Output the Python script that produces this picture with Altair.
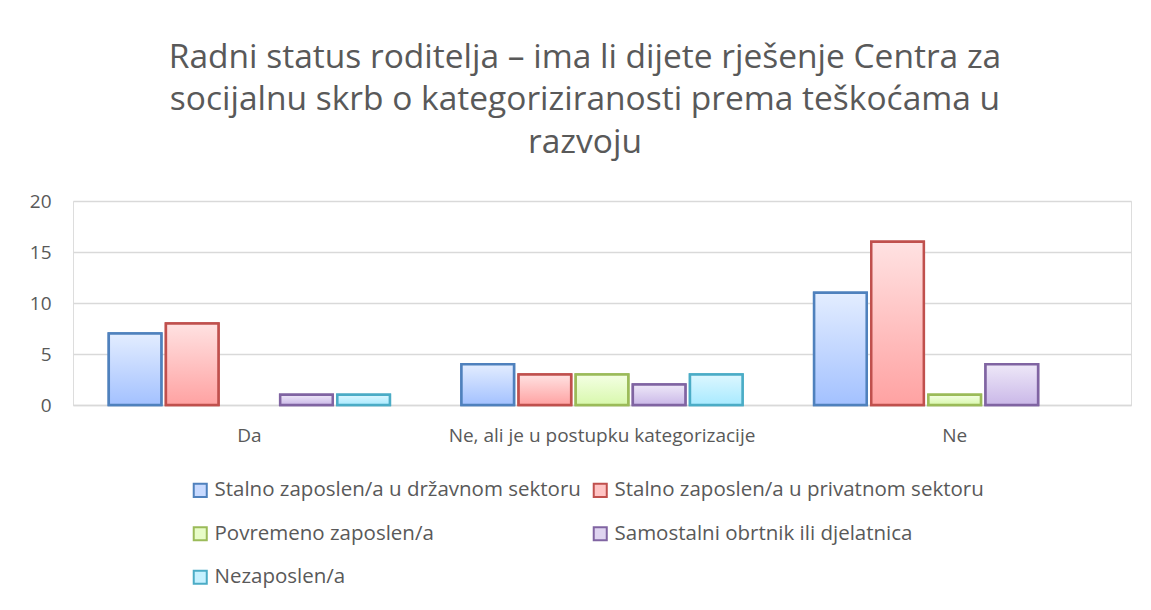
import altair as alt
import pandas as pd

categories = ["Da", "Ne, ali je u postupku kategorizacije", "Ne"]
series = [
    "Stalno zaposlen/a u državnom sektoru",
    "Stalno zaposlen/a u privatnom sektoru",
    "Povremeno zaposlen/a",
    "Samostalni obrtnik ili djelatnica",
    "Nezaposlen/a",
]
drzavni = [7, 4, 11]
privatni = [8, 3, 16]
povremeno = [0, 3, 1]
obrtnik = [1, 2, 4]
nezaposlen = [1, 3, 0]

stroke_colors = ["#4F81BD", "#C0504D", "#9BBB59", "#8064A2", "#4BACC6"]
legend_fill = ["#C8DAFF", "#FFC4C4", "#E8FCC8", "#DFD4F0", "#C6F1FF"]
grad_top = ["#E3EDFF", "#FFE2E2", "#F4FFE4", "#EEE8F8", "#DDF7FF"]
grad_bottom = ["#A3C1FF", "#FFA2A2", "#D8F8AC", "#CAB8E8", "#A8EAFF"]

rows = []
for s, vals in zip(series, [drzavni, privatni, povremeno, obrtnik, nezaposlen]):
    for c, v in zip(categories, vals):
        rows.append({"kategorija": c, "status": s, "broj": v})
df = pd.DataFrame(rows)


def grad(top, bottom):
    return {
        "gradient": "linear",
        "x1": 0, "y1": 0, "x2": 0, "y2": 1,
        "stops": [{"offset": 0, "color": top}, {"offset": 1, "color": bottom}],
    }


font = "Open Sans"
gray = "#595959"

x_enc = alt.X(
    "kategorija:N",
    sort=categories,
    scale=alt.Scale(paddingInner=0.19, paddingOuter=0.095),
    axis=alt.Axis(
        title=None, labelAngle=0, ticks=False, domain=True, domainColor="#D9D9D9",
        domainWidth=1.5, labelPadding=21, labelFontSize=19, labelColor=gray, labelFont=font,
        labelLimit=0,
    ),
)
xo_enc = alt.XOffset(
    "status:N", sort=series,
    scale=alt.Scale(domain=series, paddingInner=0.08, paddingOuter=0.04),
)
y_enc = alt.Y(
    "broj:Q",
    scale=alt.Scale(domain=[0, 20]),
    axis=alt.Axis(
        title=None, values=[0, 5, 10, 15, 20], ticks=False, domain=False,
        gridColor="#D9D9D9", gridWidth=1.5, labelPadding=22, labelFontSize=19,
        labelColor=gray, labelFont=font,
    ),
)

base = alt.Chart(df).transform_filter("datum.broj > 0")

legend_layer = base.mark_bar(strokeWidth=2.5).encode(
    x=x_enc,
    xOffset=xo_enc,
    y=y_enc,
    fill=alt.Fill(
        "status:N", sort=series,
        scale=alt.Scale(domain=series, range=legend_fill),
        legend=alt.Legend(
            title=None, orient="none", legendX=117, legendY=279, columns=2,
            direction="horizontal", symbolType="square", symbolSize=170,
            symbolStrokeWidth=2, labelFontSize=20.5, labelColor=gray, labelFont=font,
            rowPadding=21.5, columnPadding=8, labelOffset=4, labelLimit=600,
        ),
    ),
    stroke=alt.Stroke(
        "status:N", sort=series,
        scale=alt.Scale(domain=series, range=stroke_colors),
    ),
)

grad_fill = alt.value(
    grad(grad_top[-1], grad_bottom[-1]),
    condition=[
        {"test": f"datum.status === '{s}'", "value": grad(t, b)}
        for s, t, b in zip(series[:-1], grad_top[:-1], grad_bottom[:-1])
    ],
)

grad_layer = base.mark_bar(strokeWidth=2.5).encode(
    x=x_enc,
    xOffset=xo_enc,
    y=y_enc,
    fill=grad_fill,
    stroke=alt.Stroke("status:N", sort=series, legend=None),
)

chart = (
    alt.layer(legend_layer, grad_layer)
    .properties(
        width=1058,
        height=204,
        autosize=alt.AutoSizeParams(type="none"),
        padding={"left": 65, "top": 193, "right": 12, "bottom": 190},
        title=alt.TitleParams(
            text=[
                "Radni status roditelja – ima li dijete rješenje Centra za",
                "socijalnu skrb o kategoriziranosti prema teškoćama u",
                "razvoju",
            ],
            fontSize=33.5, font=font, fontWeight="normal", color=gray,
            anchor="middle", lineHeight=42.5, offset=32, dx=-17,
        ),
    )
    .configure_view(stroke=None)
    .configure(background="white")
)

chart.save("out.html", embed_options={"renderer": "svg", "actions": False})
